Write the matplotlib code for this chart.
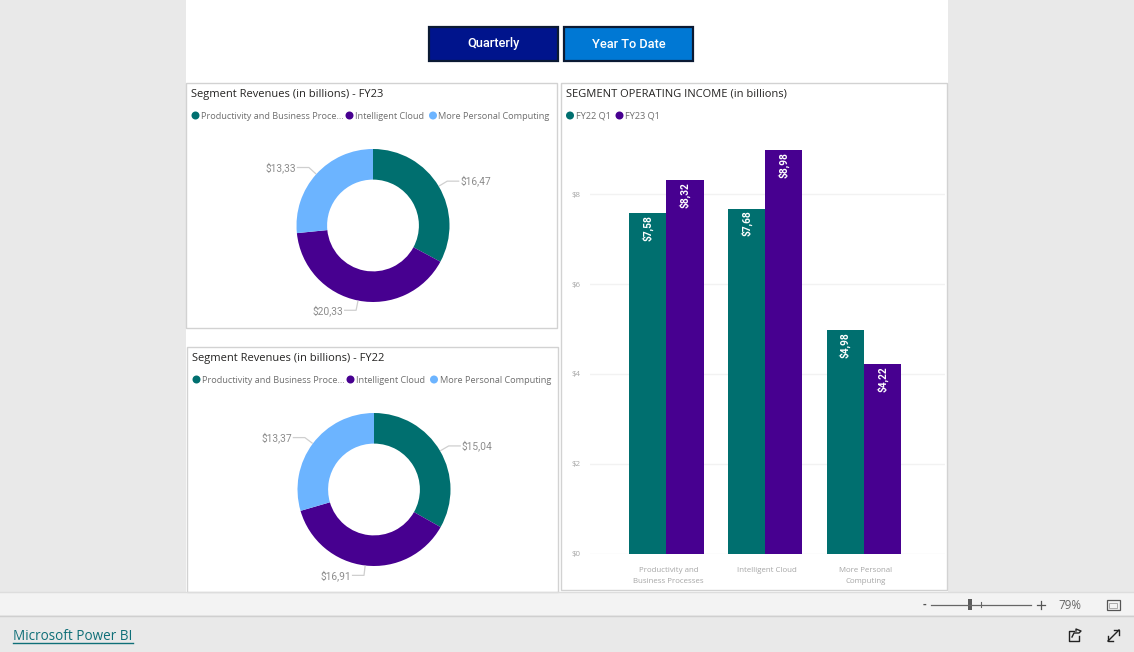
import math
import matplotlib
matplotlib.use('Agg')
import matplotlib.pyplot as plt
from matplotlib.patches import Rectangle, Circle

W, H = 1134, 652

TEAL = '#006F6F'
PURPLE = '#470090'
BLUE = '#6CB4FF'
GREY = '#8c8c8c'

# donut data
donut_names = ['Productivity and Business Proce...', 'Intelligent Cloud', 'More Personal Computing']
fy23_revenue = [16.47, 20.33, 13.33]
fy22_revenue = [15.04, 16.91, 13.37]

# bar data
segments = ['Productivity and\nBusiness Processes', 'Intelligent Cloud', 'More Personal\nComputing']
fy22_income = [7.58, 7.68, 4.98]
fy23_income = [8.32, 8.98, 4.22]
income_ticks = [0, 2, 4, 6, 8]

plt.rcParams['font.family'] = ['Open Sans', 'DejaVu Sans']

fig = plt.figure(figsize=(W / 100, H / 100), dpi=100, facecolor='#E9E9E9')


def px_axes(left, top, right, bottom):
    return fig.add_axes([left / W, 1 - bottom / H, (right - left) / W, (bottom - top) / H])


def money(v):
    return '$' + f'{v:.2f}'.replace('.', ',')


# page layer, works in screen pixels
page = fig.add_axes([0, 0, 1, 1], zorder=0)
page.set_xlim(0, W)
page.set_ylim(H, 0)
page.axis('off')

page.add_patch(Rectangle((186, 0), 762, 592, fc='white', ec='none'))
page.add_patch(Rectangle((0, 592), W, 23, fc='#F3F3F3', ec='none'))
page.plot([0, W], [592, 592], color='#DDDDDD', lw=1)
page.plot([0, W], [615.5, 615.5], color='#CFCFCF', lw=1)

for box in [(186, 83, 371, 244.5), (187, 347, 371, 245), (561, 83, 386, 507)]:
    page.add_patch(Rectangle(box[:2], box[2], box[3], fc='white', ec='#D2D2D2', lw=1))

# buttons
for x, col, txt in [(428.5, '#00148C', 'Quarterly'), (563.5, '#0078D4', 'Year To Date')]:
    page.add_patch(Rectangle((x, 26.5), 129.5, 34.5, fc=col, ec='#0B1A33', lw=1.6))
    page.text(x + 65, 44, txt, color='white', fontsize=9.2, ha='center', va='center',
              family='Roboto', weight='medium')


def title(x, y, txt):
    page.text(x, y, txt, color='#252423', fontsize=8.05, va='center')


def legend(items, y):
    for dot_x, col, txt in items:
        page.add_patch(Circle((dot_x, y), 4, fc=col, ec='none'))
        page.text(dot_x + 5.5, y + 0.8, txt, color='#6f6f6f', fontsize=6.6, va='center')


title(191, 94, 'Segment Revenues (in billions) - FY23')
legend([(195.5, TEAL, donut_names[0]), (349.5, PURPLE, donut_names[1]), (433, BLUE, donut_names[2])], 115.5)
title(192, 358, 'Segment Revenues (in billions) - FY22')
legend([(196.5, TEAL, donut_names[0]), (350.5, PURPLE, donut_names[1]), (434, BLUE, donut_names[2])], 379.5)
title(566, 94, 'SEGMENT OPERATING INCOME (in billions)')
legend([(570, TEAL, 'FY22 Q1'), (619.5, PURPLE, 'FY23 Q1')], 115.5)


def donut(cx, cy, r, values):
    ax = px_axes(cx - r, cy - r, cx + r, cy + r)
    ax.set_zorder(1)
    ax.pie(values, colors=[TEAL, PURPLE, BLUE], startangle=90, counterclock=False, radius=1,
           wedgeprops=dict(width=0.4, linewidth=0))
    ax.set_xlim(-1, 1)
    ax.set_ylim(-1, 1)
    # leader lines from the middle of each slice
    total = sum(values)
    run = 0
    for v in values:
        a = 2 * math.pi * (run + v / 2) / total
        run += v
        sx, cs = math.sin(a), math.cos(a)
        side = 1 if sx > 0 else -1
        ex, ey = 1.13 * sx, 1.13 * cs
        ax.plot([1.01 * sx, ex, ex + side * 0.15], [1.01 * cs, ey, ey], color='#CFCFCF', lw=0.9,
                clip_on=False)
        ax.text(ex + side * 0.17, ey, money(v), color=GREY, fontsize=7.4, va='center',
                ha='left' if side > 0 else 'right', family='Roboto', clip_on=False)


donut(373, 225.5, 76.5, fy23_revenue)
donut(374, 489.5, 76.5, fy22_revenue)

# grouped bars
ax = px_axes(590, 130, 945, 553.5)
ax.set_zorder(1)
ax.patch.set_alpha(0)
pos = [0, 1, 2]
w = 0.378
b1 = ax.bar([p - w / 2 for p in pos], fy22_income, w, color=TEAL, zorder=2)
b2 = ax.bar([p + w / 2 for p in pos], fy23_income, w, color=PURPLE, zorder=2)
for bars in (b1, b2):
    for rect in bars:
        val = rect.get_height()
        ax.annotate(money(val), (rect.get_x() + rect.get_width() / 2, val), xytext=(0, -1.5),
                    textcoords='offset points', rotation=90, ha='center', va='top', color='white',
                    fontsize=7.3, family='Roboto', weight='bold', zorder=3)
ax.set_xlim(-0.775, 2.822)
ax.set_ylim(0, 9.432)
ax.set_yticks(income_ticks)
ax.set_yticklabels(['$' + str(t) for t in income_ticks])
ax.set_xticks([p + 0.02 for p in pos])
ax.set_xticklabels(segments, linespacing=1.85)
ax.tick_params(axis='both', length=0, labelcolor='#a6a6a6', labelsize=5.7)
ax.tick_params(axis='x', pad=9.5)
ax.tick_params(axis='y', pad=6.5)
ax.grid(axis='y', color='#F2F2F2', lw=1, zorder=0)
ax.set_axisbelow(True)
for s in ax.spines.values():
    s.set_visible(False)

# footer bar
page.text(13, 636.5, 'Microsoft Power BI', color='#0F6F78', fontsize=9.75, va='center')
page.plot([13, 133], [642.5, 642.5], color='#0F6F78', lw=1)

page.text(924.5, 604.5, '-', color='#555555', fontsize=8, ha='center', va='center', weight='bold')
page.plot([931, 1031], [604.5, 604.5], color='#666666', lw=0.9)
page.plot([981, 981], [602, 607], color='#666666', lw=0.8)
page.add_patch(Rectangle((968, 599), 4, 11, fc='#5c5c5c', ec='none'))
page.plot([1037, 1045], [604.5, 604.5], color='#555555', lw=0.9)
page.plot([1041, 1041], [600.5, 608.5], color='#555555', lw=0.9)
page.text(1069.5, 605.5, '79%', color='#666666', fontsize=8.4, ha='center', va='center')
# fit to page icon, frame plus corner brackets
page.add_patch(Rectangle((1106.5, 600), 13, 10, fc='none', ec='#555555', lw=0.9))
page.add_patch(Rectangle((1109, 602.5), 8, 5, fc='none', ec='#AAAAAA', lw=0.7))

# share icon
page.plot([1074, 1069, 1069, 1079, 1079], [630.5, 630.5, 640.5, 640.5, 636], color='#222222', lw=1)
page.plot([1072, 1074, 1079, 1081, 1076, 1076], [637, 633, 633, 631, 629, 631], color='#222222', lw=1)
# expand icon
page.plot([1108, 1119], [641, 630], color='#222222', lw=1)
page.plot([1114, 1119, 1119], [630, 630, 635], color='#222222', lw=1)
page.plot([1108, 1108, 1113], [636, 641, 641], color='#222222', lw=1)

fig.savefig('out.png', dpi=100, facecolor=fig.get_facecolor())
